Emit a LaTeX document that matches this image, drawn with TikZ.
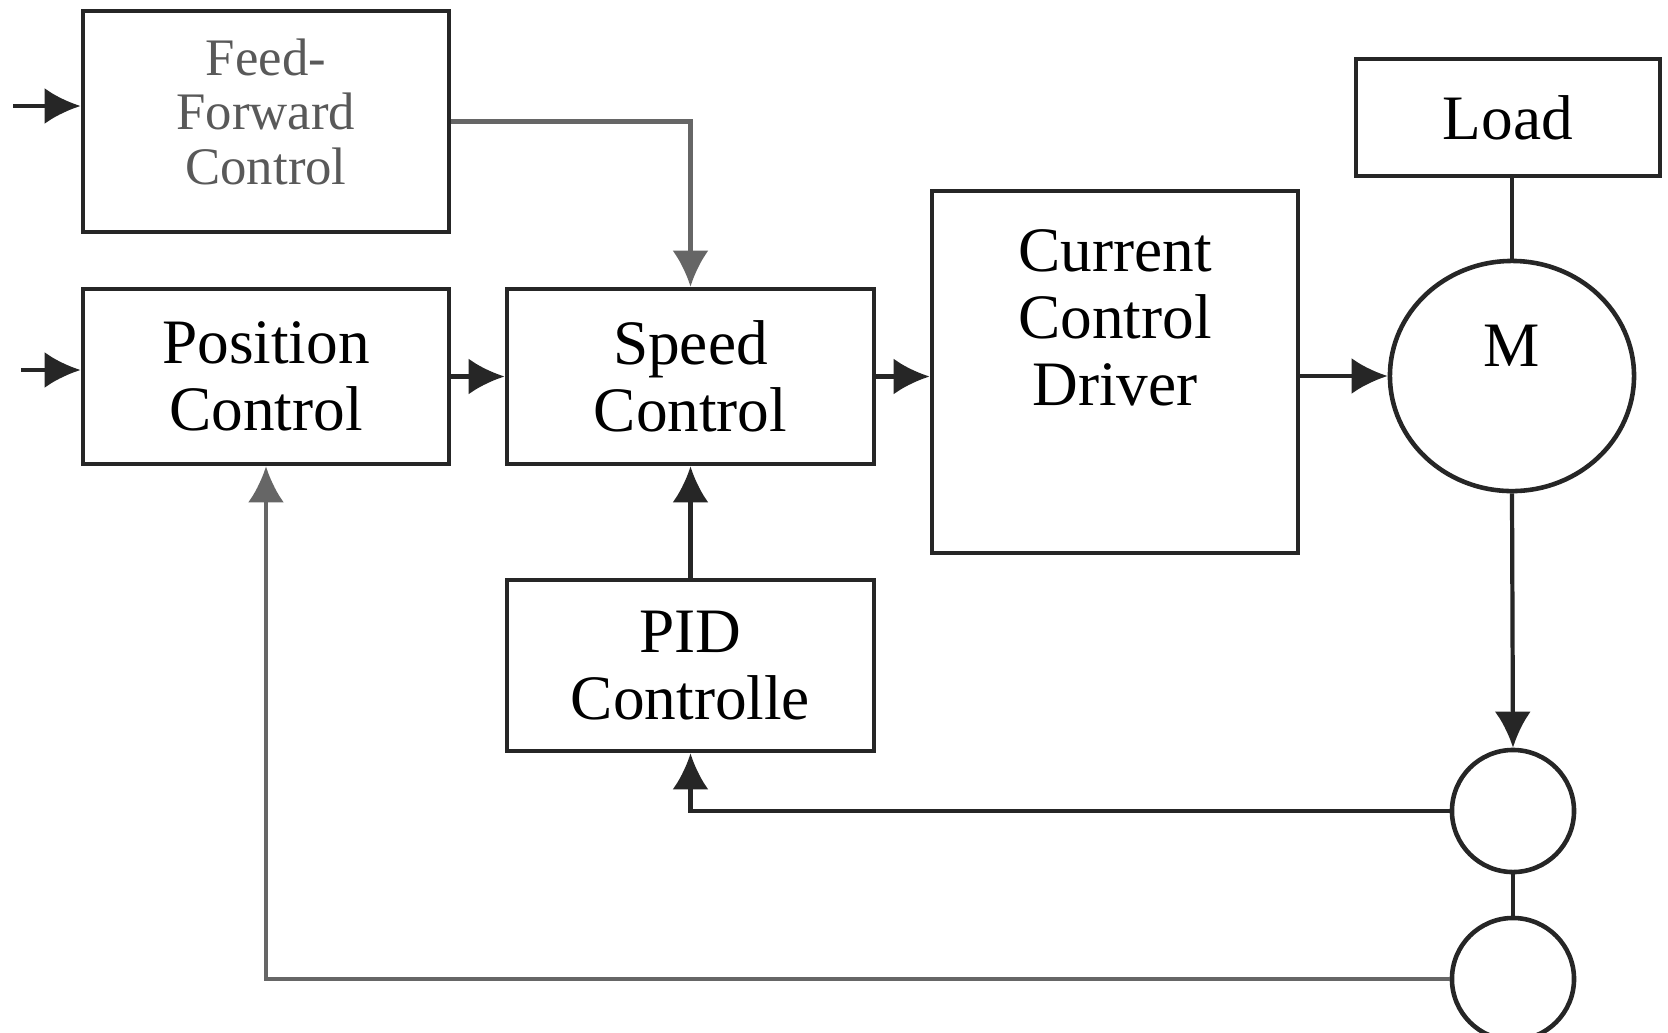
\documentclass[tikz,border=0pt]{standalone}
\usepackage{fontspec}
\setmainfont{Liberation Serif}
\usetikzlibrary{arrows.meta,shapes.geometric}

\tikzstyle{every node}=[font=\fontsize{18}{19}\selectfont]
\tikzstyle{block}=[draw=black!85, line width=1.3pt, align=center, inner sep=0pt]
\tikzstyle{ring}=[draw=black!85, line width=1.3pt, circle, inner sep=0pt, minimum size=1.22cm]
\tikzstyle{wire}=[draw=black!85, line width=1.2pt]
\tikzstyle{arr}=[wire, -{Latex[length=0.36cm,width=0.36cm]}]

\begin{document}
\begin{tikzpicture}[x=0.01cm,y=-0.01cm]
            \useasboundingbox (0,0) rectangle (1668,1032);

            % blocks
            \node[block, minimum width=3.66cm, minimum height=2.21cm,
                  label={[align=center, text=black!65, font=\fontsize{15}{15.5}\selectfont, yshift=0.1cm]center:Feed-\\Forward\\Control}] (ff) at (266,121.5) {};
            \node[block, minimum width=3.66cm, minimum height=1.75cm] (pos) at (266,376.5) {Position\\Control};
            \node[block, minimum width=3.67cm, minimum height=1.75cm] (spd) at (690.5,376.5) {Speed\\Control};
            \node[block, minimum width=3.67cm, minimum height=1.71cm] (pid) at (690.5,665.5) {PID\\Controlle};
            \node[block, minimum width=3.66cm, minimum height=3.62cm,
                  label={[align=center, anchor=north, yshift=-0.29cm]north:Current\\Control\\Driver}] (cur) at (1115,372) {};
            \node[block, minimum width=3.04cm, minimum height=1.17cm] (load) at (1508,117.5) {Load};

            % motor and sensors
            \node[block, ellipse, minimum width=2.44cm, minimum height=2.3cm,
                  label={[yshift=0.3cm]center:M}] (m) at (1512,376) {};
            \node[ring] (c1) at (1513,811) {};
            \node[ring] (c2) at (1513,979) {};

            % inputs
            \coordinate (in1) at (13,106);
            \coordinate (in2) at (21,370);
            \draw[arr] (in1) -- (in1 -| ff.west);
            \draw[arr] (in2) -- (in2 -| pos.west);

            % forward path
            \draw[arr, draw=black!60] (ff.east) -| (spd.north);
            \draw[arr] (pos.east) -- (spd.west);
            \draw[arr] (spd.east) -- (spd.east -| cur.west);
            \draw[arr] (cur.east |- m.west) -- (m.west);
            \draw[wire] (load.south -| m.north) -- (m.north);

            % feedback
            \draw[arr] (m.south) -- (c1.north);
            \draw[wire] (c1.south) -- (c2.north);
            \draw[arr] (c1.west) -| (pid.south);
            \draw[arr] (pid.north) -- (spd.south);
            \draw[arr, draw=black!60] (c2.west) -| (pos.south);
        \end{tikzpicture}
\end{document}
